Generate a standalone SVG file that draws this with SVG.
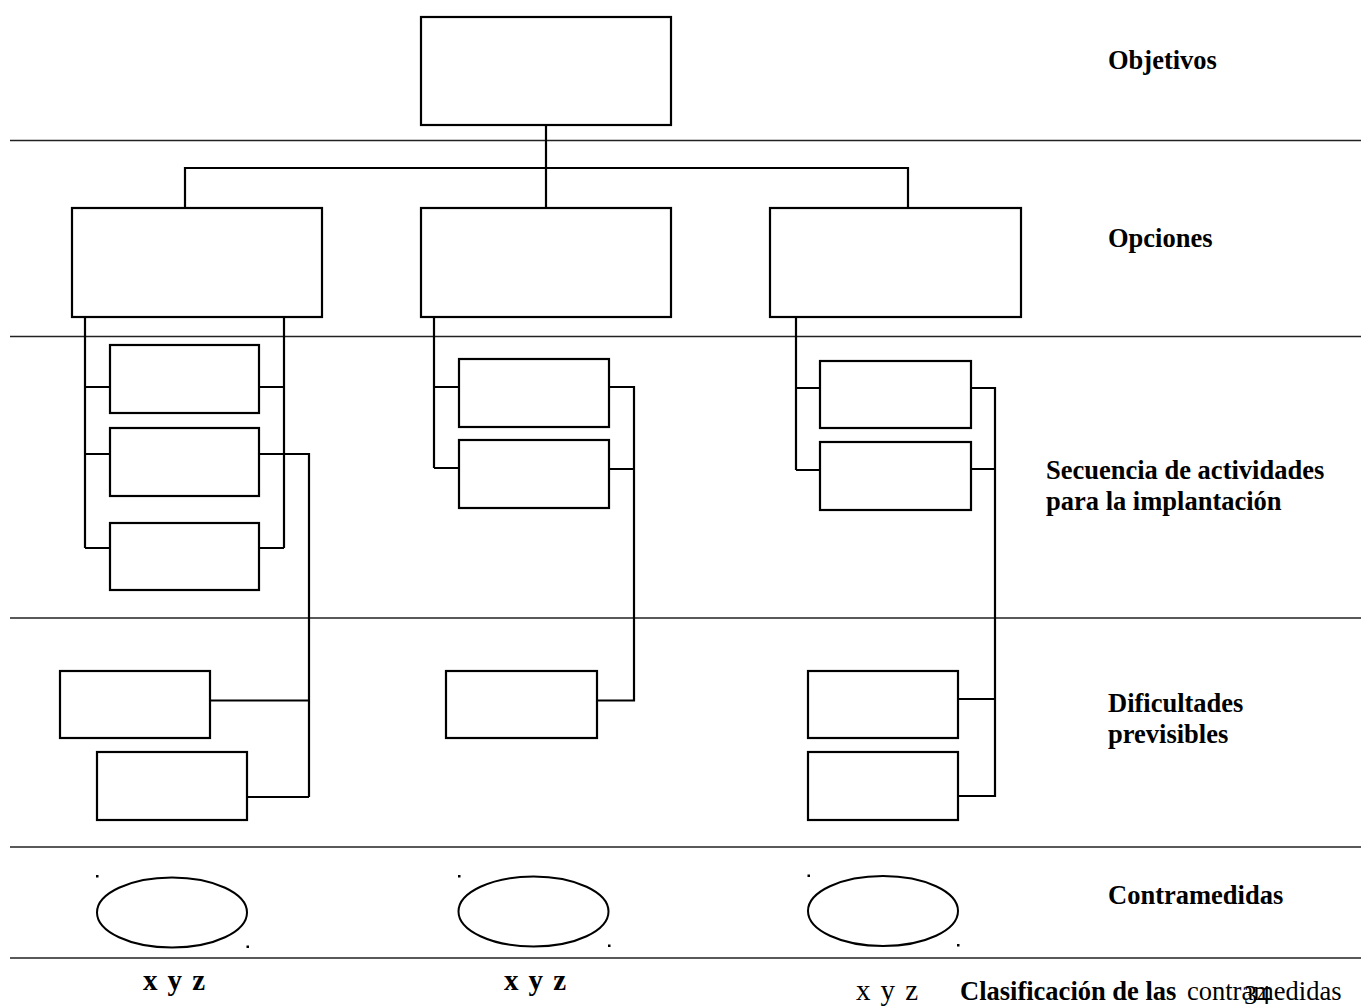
<svg xmlns="http://www.w3.org/2000/svg" width="1361" height="1006" viewBox="0 0 1361 1006">
<style>
.bg{fill:#fff}
.box{fill:#fff;stroke:#000;stroke-width:2.2}
.oval{fill:#fff;stroke:#000;stroke-width:2}
.sep{stroke:#222;stroke-width:1.3;fill:none}
.con{stroke:#000;stroke-width:2.2;fill:none}
.lbl{font-family:"Liberation Serif","Times New Roman",serif;font-size:26.5px;font-weight:bold;fill:#000}
.reg{font-family:"Liberation Serif","Times New Roman",serif;font-size:26.5px;fill:#000}
.big{font-size:29px}
.dot{fill:#000}
</style>
<rect class="bg" width="1361" height="1006"/>
<g id="separators">
<line class="sep" x1="10" y1="140.5" x2="1361" y2="140.5"/>
<line class="sep" x1="10" y1="336.5" x2="1361" y2="336.5"/>
<line class="sep" x1="10" y1="618" x2="1361" y2="618"/>
<line class="sep" x1="10" y1="847" x2="1361" y2="847"/>
<line class="sep" x1="10" y1="958" x2="1361" y2="958"/>
</g>
<g id="connectors">
<path class="con" d="M546 125 V208 M185 208 V168 H908 V208"/>
<path class="con" d="M85 317 V548 M85 387 H110 M85 454 H110 M85 548 H110"/>
<path class="con" d="M284 317 V548 M259 387 H284 M259 548 H284 M259 454 H309 V797 M210 700.5 H309 M247 797 H309"/>
<path class="con" d="M434 317 V468 M434 387 H459 M434 468 H459"/>
<path class="con" d="M609 387 H634 V700.5 H597 M609 469 H634"/>
<path class="con" d="M796 317 V470 M796 388 H820 M796 470 H820"/>
<path class="con" d="M971 388 H995 V796 H958 M971 469 H995 M958 699 H995"/>
</g>
<g id="objetivo"><rect class="box" x="421" y="17" width="250" height="108"/></g>
<g id="opcion1"><rect class="box" x="72" y="208" width="250" height="109"/></g>
<g id="opcion2"><rect class="box" x="421" y="208" width="250" height="109"/></g>
<g id="opcion3"><rect class="box" x="770" y="208" width="251" height="109"/></g>
<g id="act1a"><rect class="box" x="110" y="345" width="149" height="68"/></g>
<g id="act1b"><rect class="box" x="110" y="428" width="149" height="68"/></g>
<g id="act1c"><rect class="box" x="110" y="523" width="149" height="67"/></g>
<g id="act2a"><rect class="box" x="459" y="359" width="150" height="68"/></g>
<g id="act2b"><rect class="box" x="459" y="440" width="150" height="68"/></g>
<g id="act3a"><rect class="box" x="820" y="361" width="151" height="67"/></g>
<g id="act3b"><rect class="box" x="820" y="442" width="151" height="68"/></g>
<g id="dif1a"><rect class="box" x="60" y="671" width="150" height="67"/></g>
<g id="dif1b"><rect class="box" x="97" y="752" width="150" height="68"/></g>
<g id="dif2"><rect class="box" x="446" y="671" width="151" height="67"/></g>
<g id="dif3a"><rect class="box" x="808" y="671" width="150" height="67"/></g>
<g id="dif3b"><rect class="box" x="808" y="752" width="150" height="68"/></g>
<g id="contra1"><ellipse class="oval" cx="172" cy="912.5" rx="75" ry="35"/><rect class="dot" x="96" y="875" width="2.5" height="2.5"/><rect class="dot" x="246.5" y="945.5" width="2.5" height="2.5"/></g>
<g id="contra2"><ellipse class="oval" cx="533.5" cy="911.5" rx="75" ry="35"/><rect class="dot" x="458" y="875" width="2.5" height="2.5"/><rect class="dot" x="608" y="944.5" width="2.5" height="2.5"/></g>
<g id="contra3"><ellipse class="oval" cx="883" cy="911" rx="75" ry="35"/><rect class="dot" x="807.5" y="874.5" width="2.5" height="2.5"/><rect class="dot" x="957" y="944" width="2.5" height="2.5"/></g>
<g id="labels">
<text class="lbl" x="1108" y="69">Objetivos</text>
<text class="lbl" x="1108" y="247">Opciones</text>
<text class="lbl" x="1046" y="479">Secuencia de actividades</text>
<text class="lbl" x="1046" y="510">para la implantación</text>
<text class="lbl" x="1108" y="712">Dificultades</text>
<text class="lbl" x="1108" y="743">previsibles</text>
<text class="lbl" x="1108" y="904">Contramedidas</text>
<text class="lbl big" x="143" y="990" textLength="62">x y z</text>
<text class="lbl big" x="504" y="990" textLength="62">x y z</text>
<text class="reg big" x="856" y="1000" textLength="62">x y z</text>
<text class="lbl" x="960" y="1000">Clasificación de las</text>
<text class="reg" x="1187" y="1000">contramedidas</text>
<text class="reg" x="1244" y="1004">34</text>
</g>
</svg>
